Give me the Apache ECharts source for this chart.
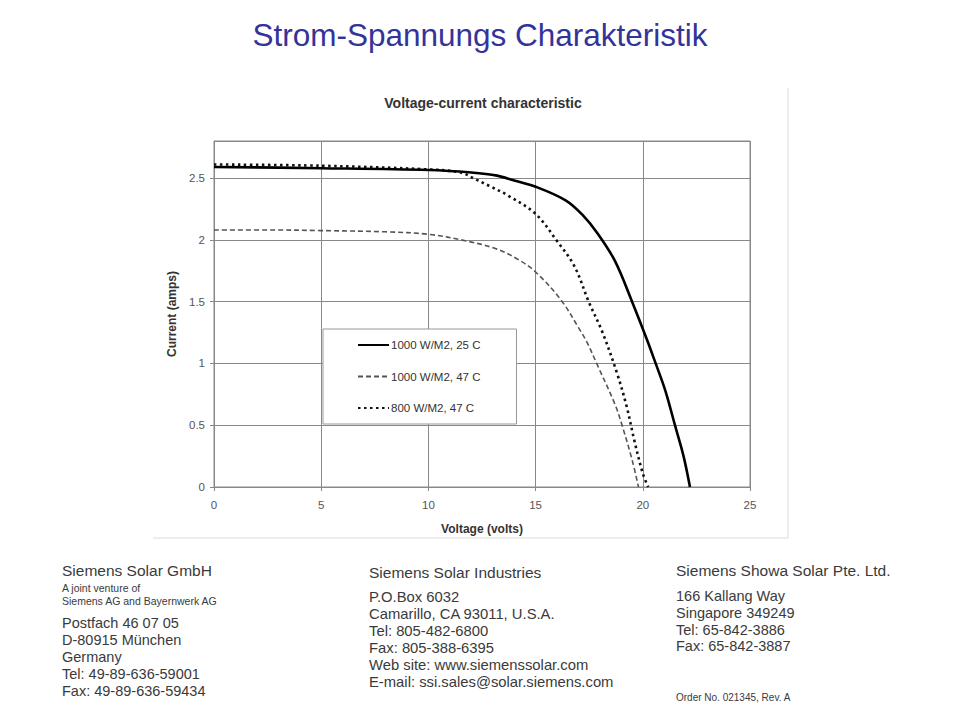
<!DOCTYPE html>
<html>
<head>
<meta charset="utf-8">
<script src="https://cdn.jsdelivr.net/npm/echarts@6/dist/echarts.min.js"></script>
<style>
html,body{margin:0;padding:0;background:#fff;}
#c{width:960px;height:720px;}
</style>
</head>
<body>
<div id="c"></div>
<script>
// Series names (legend)
const seriesNames = ['1000 W/M2, 25 C', '1000 W/M2, 47 C', '800 W/M2, 47 C'];

// 1000 W/M2, 25 C (solid)
const volts1 = [0, 5, 10, 12, 13.2, 14, 15, 16.4, 17.2, 17.9, 18.7, 19.5, 20.2, 20.6, 21.05, 21.5, 21.9, 22.2];
const amps1  = [2.59, 2.58, 2.565, 2.545, 2.52, 2.48, 2.43, 2.32, 2.2, 2.05, 1.83, 1.5, 1.19, 1.0, 0.78, 0.5, 0.25, 0];

// 1000 W/M2, 47 C (dashed)
const volts2 = [0, 2.7, 5, 8, 10, 11.8, 13.2, 14.2, 15, 16.2, 17, 17.4, 17.9, 18.7, 19.05, 19.5, 19.8];
const amps2  = [2.08, 2.08, 2.075, 2.065, 2.045, 1.99, 1.925, 1.84, 1.74, 1.51, 1.29, 1.17, 0.98, 0.67, 0.49, 0.22, 0];

// 800 W/M2, 47 C (dotted)
const volts3 = [0, 5, 10, 11.5, 12.2, 12.8, 13.7, 15, 16, 16.8, 17.5, 18.1, 18.8, 19.25, 19.6, 20.0, 20.25];
const amps3  = [2.61, 2.6, 2.57, 2.545, 2.49, 2.44, 2.36, 2.21, 1.99, 1.79, 1.49, 1.26, 0.92, 0.65, 0.38, 0.11, 0];

// Page texts
const pageTitle = 'Strom-Spannungs Charakteristik';
const chartTitle = 'Voltage-current characteristic';
const xName = 'Voltage (volts)';
const yName = 'Current (amps)';

const col1Head = 'Siemens Solar GmbH';
const col1Small = ['A joint venture of', 'Siemens AG and Bayernwerk AG'];
const col1Lines = ['Postfach 46 07 05', 'D-80915 München', 'Germany', 'Tel: 49-89-636-59001', 'Fax: 49-89-636-59434'];
const col2Head = 'Siemens Solar Industries';
const col2Lines = ['P.O.Box 6032', 'Camarillo, CA 93011, U.S.A.', 'Tel: 805-482-6800', 'Fax: 805-388-6395', 'Web site: www.siemenssolar.com', 'E-mail: ssi.sales@solar.siemens.com'];
const col3Head = 'Siemens Showa Solar Pte. Ltd.';
const col3Lines = ['166 Kallang Way', 'Singapore 349249', 'Tel: 65-842-3886', 'Fax: 65-842-3887'];
const orderNo = 'Order No. 021345, Rev. A';

function pairs(xs, ys){ return xs.map((x,i)=>[x, ys[i]]); }

const FONT = '"Liberation Sans", Arial, Helvetica, sans-serif';
const FOOT = '#3a3a3a';

function txt(text, x, y, size){
  return {type:'text', x:x, y:y, silent:true,
    style:{text:text, fill:FOOT, fontSize:size, fontFamily:FONT, verticalAlign:'middle', align:'left'}};
}

const graphics = [];
graphics.push({type:'line', silent:true, shape:{x1:788, y1:88, x2:788, y2:538}, style:{stroke:'#dcdcdc', lineWidth:1}});
graphics.push({type:'line', silent:true, shape:{x1:153, y1:538, x2:788, y2:538}, style:{stroke:'#dcdcdc', lineWidth:1}});

graphics.push(txt(col1Head, 62, 570, 15.5));
graphics.push(txt(col1Small[0], 62, 588, 10.5));
graphics.push(txt(col1Small[1], 62, 601, 10.5));
col1Lines.forEach((t,i)=>graphics.push(txt(t, 62, 623 + i*17, 14.5)));

graphics.push(txt(col2Head, 369, 572, 15.5));
col2Lines.forEach((t,i)=>graphics.push(txt(t, 369, 597 + i*17, 14.8)));

graphics.push(txt(col3Head, 676, 570, 15.5));
col3Lines.forEach((t,i)=>graphics.push(txt(t, 676, 596 + i*16.8, 14.5)));
graphics.push(txt(orderNo, 676, 697, 10));

const chart = echarts.init(document.getElementById('c'), null, {renderer:'svg'});
chart.setOption({
  animation:false,
  backgroundColor:'#fff',
  title:[
    {text:pageTitle, left:'center', top:14, textStyle:{color:'#333399', fontSize:31.5, fontWeight:'normal', fontFamily:FONT}},
    {text:chartTitle, left:478, top:91, textAlign:'center', textStyle:{color:'#333', fontSize:14, fontWeight:'bold', fontFamily:FONT}}
  ],
  grid:{left:214, right:210, top:141, bottom:233, show:true, borderColor:'#888', borderWidth:1, backgroundColor:'transparent'},
  legend:{
    orient:'vertical', left:323, top:329,
    backgroundColor:'#fff', borderColor:'#999', borderWidth:1,
    padding:[10, 36, 10, 34], itemGap:19.5, itemWidth:31, itemHeight:12,
    itemStyle:{color:'transparent', borderWidth:0, opacity:0},
    textStyle:{color:'#333', fontSize:11.5, fontFamily:FONT, padding:[0,0,0,-3]},
    data:seriesNames
  },
  xAxis:{
    type:'value', min:0, max:25, interval:5,
    name:xName, nameLocation:'middle', nameGap:36,
    nameTextStyle:{color:'#333', fontSize:12, fontWeight:'bold', fontFamily:FONT},
    axisLine:{lineStyle:{color:'#888'}},
    axisTick:{show:true, length:4, lineStyle:{color:'#888'}},
    axisLabel:{color:'#555', fontSize:11.5, fontFamily:FONT, margin:12},
    splitLine:{show:true, lineStyle:{color:'#888', width:1}}
  },
  yAxis:{
    type:'value', min:0, max:2.8, interval:0.5,
    name:yName, nameLocation:'middle', nameGap:33, nameRotate:90,
    nameTextStyle:{color:'#333', fontSize:12, fontWeight:'bold', fontFamily:FONT},
    axisLine:{show:true, lineStyle:{color:'#888'}},
    axisTick:{show:true, length:4, lineStyle:{color:'#888'}},
    axisLabel:{color:'#555', fontSize:11.5, fontFamily:FONT, margin:9, showMaxLabel:false,
      formatter:function(v){ return Math.abs(v*2-Math.round(v*2))<1e-6 ? String(v) : ''; }},
    splitLine:{show:true, lineStyle:{color:'#888', width:1}}
  },
  series:[
    {name:seriesNames[0], type:'line', symbol:'none', smooth:0.35,
     data:pairs(volts1, amps1), lineStyle:{color:'#000', width:2.6, type:'solid'}, itemStyle:{color:'#000'}, z:5},
    {name:seriesNames[1], type:'line', symbol:'none', smooth:0.35,
     data:pairs(volts2, amps2), lineStyle:{color:'#555', width:1.6, type:[5,3]}, itemStyle:{color:'#555'}, z:4},
    {name:seriesNames[2], type:'line', symbol:'none', smooth:0.35,
     data:pairs(volts3, amps3), lineStyle:{color:'#111', width:2.6, type:[2.5,3.5]}, itemStyle:{color:'#111'}, z:4}
  ],
  graphic:graphics
});
</script>
</body>
</html>
